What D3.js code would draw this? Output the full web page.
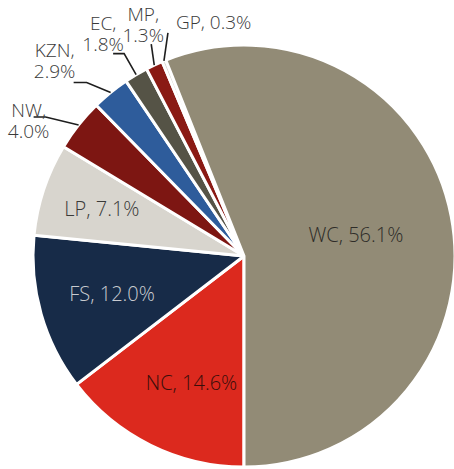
<!DOCTYPE html>
<html lang="en">
<head>
<meta charset="UTF-8">
<title>Pie</title>
<script src="https://d3js.org/d3.v7.min.js"></script>
<style>
  body { margin: 0; background: #fff; }
  text { font-family: "Open Sans", sans-serif; font-weight: 300; }
</style>
</head>
<body>
<div id="chart"></div>
<script>
    // data (clockwise, starting at 6 o'clock)
    var regions = ["NC", "FS", "LP", "NW", "KZN", "EC", "MP", "GP", "WC"];
    var shares  = [14.6, 12.0, 7.1, 4.0, 2.9, 1.8, 1.3, 0.3, 56.1];
    var colours = ["#dc291e", "#172b48", "#d8d5ce", "#7d1612", "#2e5c9b", "#555346", "#8a1a14", "#d8d5ce", "#928b76"];

    var width = 454, height = 469;
    var cx = 244, cy = 256, radius = 211;

    // labels inside the slice: radius fraction, x nudge and text colour
    var inside = {
        WC: {f: 0.54, dx: 0,  fill: "#2e2c28"},
        NC: {f: 0.67, dx: 10, fill: "#3a0e0a"},
        FS: {f: 0.65, dx: 0,  fill: "#c9cbd0"},
        LP: {f: 0.71, dx: 0,  fill: "#3a3a38"}
    };
    // labels outside with leader lines: elbow offset from arc, tail, text offset
    var outside = {
        NW:  {elbow: [-33, -8],  tail: -12, text: [-5, 0],   anchor: "middle"},
        KZN: {elbow: [-24, -10], tail: -13, text: [-19, -26], anchor: "middle"},
        EC:  {elbow: [-12, -21], tail: -11, text: [-10, -24], anchor: "middle"},
        MP:  {elbow: [-3, -21],  tail: 0,   text: [-8, -23], anchor: "middle"},
        GP:  {elbow: [4, -28],   tail: 0,   text: [8, -4],   anchor: "start"}
    };

    var data = regions.map(function(r, i) { return {name: r, value: shares[i], colour: colours[i]}; });

    var svg = d3.select("#chart")
        .append("svg")
        .attr("width", width)
        .attr("height", height);

    var g = svg.append("g")
        .attr("transform", "translate(" + cx + "," + cy + ")");

    var pie = d3.pie()
        .value(function(d) { return d.value; })
        .sort(null)
        .startAngle(Math.PI)
        .endAngle(3 * Math.PI);

    var arc = d3.arc().innerRadius(0).outerRadius(radius);

    var arcs = pie(data);

    g.selectAll("path")
        .data(arcs)
        .enter()
        .append("path")
        .attr("d", arc)
        .style("fill", function(d) { return d.data.colour; })
        .style("stroke", "#fff")
        .style("stroke-width", 3)
        .style("stroke-linejoin", "miter");

    // inner labels
    arcs.filter(function(d) { return inside[d.data.name]; }).forEach(function(d) {
        var cfg = inside[d.data.name];
        var a = (d.startAngle + d.endAngle) / 2;
        var rr = radius * cfg.f;
        g.append("text")
            .attr("x", Math.sin(a) * rr + cfg.dx)
            .attr("y", -Math.cos(a) * rr)
            .attr("dy", "0.35em")
            .attr("text-anchor", "middle")
            .style("font-size", "20px")
            .style("fill", cfg.fill)
            .text(d.data.name + ", " + d.data.value.toFixed(1) + "%");
    });

    // outer labels with leader lines
    arcs.filter(function(d) { return outside[d.data.name]; }).forEach(function(d) {
        var cfg = outside[d.data.name];
        var a = (d.startAngle + d.endAngle) / 2;
        var end = [Math.sin(a) * radius, -Math.cos(a) * radius];
        var elbow = [end[0] + cfg.elbow[0], end[1] + cfg.elbow[1]];
        var tail = [elbow[0] + cfg.tail, elbow[1]];
        var pts = cfg.tail ? [end, elbow, tail] : [end, elbow];

        g.append("path")
            .attr("d", d3.line()(pts))
            .style("fill", "none")
            .style("stroke", "#1e1e1e")
            .style("stroke-width", 1.6);

        var t = g.append("text")
            .attr("x", tail[0] + cfg.text[0])
            .attr("y", tail[1] + cfg.text[1])
            .attr("text-anchor", cfg.anchor)
            .style("font-size", "19px")
            .style("fill", "#3a3a3a");
        var pct = d.data.value.toFixed(1) + "%";
        if (cfg.anchor === "start") {
            t.text(d.data.name + ", " + pct);
        } else {
            t.append("tspan").attr("x", tail[0] + cfg.text[0]).text(d.data.name + ",");
            t.append("tspan").attr("x", tail[0] + cfg.text[0]).attr("dy", 21).text(pct);
        }
    });
</script>
</body>
</html>
